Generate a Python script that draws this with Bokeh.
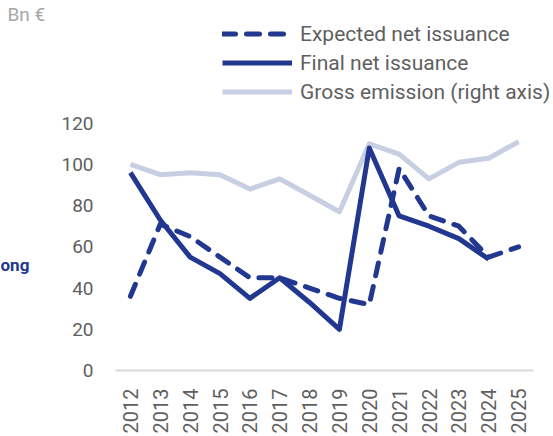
from bokeh.plotting import figure
from bokeh.layouts import row
from bokeh.models import Legend, LegendItem, Label, FixedTicker, Range1d
from bokeh.embed import file_html
from bokeh.resources import INLINE
import math

years = ["2012", "2013", "2014", "2015", "2016", "2017", "2018",
         "2019", "2020", "2021", "2022", "2023", "2024", "2025"]
expected_net = [36, 71, 65, 55, 45, 45, 40, 35, 32, 98, 75, 70, 55, 60]
final_net = [96, 73, 55, 47, 35, 45, 33, 20, 108, 75, 70, 64, 54]
gross_emission = [100, 95, 96, 95, 88, 93, 85, 77, 110, 105, 93, 101, 103, 111]
y_ticks = [0, 20, 40, 60, 80, 100, 120]

DARK = "#22378f"
LIGHT = "#c8cfe2"
GREY = "#5f5f5f"
FONT = "Roboto"

x_vals = [int(y) for y in years]

LEFT_W = 48
TOTAL_W, TOTAL_H = 553, 436
PLOT_BOTTOM = 65
FRAME_H = TOTAL_H - PLOT_BOTTOM
FRAME_LEFT = 115
FRAME_W = TOTAL_W - FRAME_LEFT
STEP_PX = 418 / len(years)
# tick 120 sits 123px below the top; extend the range so the legend lies inside the frame
y_top = 120 * FRAME_H / (FRAME_H - 123)
x_start = x_vals[0] - 0.5
x_end = x_start + FRAME_W / STEP_PX

# narrow strip on the left for the unit and side label (its frame aligns with the main frame)
side = figure(width=LEFT_W, height=TOTAL_H, output_backend="svg", toolbar_location=None,
              x_axis_type=None, y_axis_type=None, min_border=0,
              min_border_bottom=PLOT_BOTTOM,
              x_range=Range1d(0, 1), y_range=Range1d(0, 1))
side.outline_line_color = None
side.grid.visible = False
side.add_layout(Label(x=7, y=FRAME_H - 26, x_units="screen", y_units="screen", text="Bn €",
                      text_font=FONT, text_font_size="19px", text_color="#a6a6a6"))
side.add_layout(Label(x=0, y=FRAME_H - 275, x_units="screen", y_units="screen", text="ong",
                      text_font=FONT, text_font_size="17px", text_font_style="bold",
                      text_color=DARK))

p = figure(x_range=Range1d(x_start, x_end), y_range=Range1d(0, y_top),
           width=TOTAL_W - LEFT_W, height=TOTAL_H,
           output_backend="svg", toolbar_location=None,
           min_border_left=FRAME_LEFT - LEFT_W, min_border_right=0,
           min_border_top=0, min_border_bottom=PLOT_BOTTOM)
p.outline_line_color = None
p.background_fill_color = "white"
p.border_fill_color = "white"
p.grid.visible = False

g = p.line(x_vals, gross_emission, line_color=LIGHT, line_width=5, line_join="round")
e = p.line(x_vals, expected_net, line_color=DARK, line_width=5, line_dash="13 11",
           line_cap="round", line_join="round")
f = p.line(x_vals[:len(final_net)], final_net, line_color=DARK, line_width=5,
           line_join="round")

p.yaxis.ticker = FixedTicker(ticks=y_ticks)
p.yaxis.axis_line_color = None
p.yaxis.major_tick_line_color = None
p.yaxis.minor_tick_line_color = None
p.yaxis.major_label_standoff = 16
p.yaxis.major_label_text_font = FONT
p.yaxis.major_label_text_font_size = "19px"
p.yaxis.major_label_text_color = GREY

p.xaxis.ticker = FixedTicker(ticks=x_vals)
p.xaxis.bounds = (x_vals[0] - 0.5, x_vals[-1] + 0.5)
p.xaxis.axis_line_color = "#d9d9d9"
p.xaxis.axis_line_width = 2
p.xaxis.major_tick_line_color = None
p.xaxis.minor_tick_line_color = None
p.xaxis.major_label_orientation = math.pi / 2
p.xaxis.major_label_standoff = 12
p.xaxis.major_label_text_font = FONT
p.xaxis.major_label_text_font_size = "20px"
p.xaxis.major_label_text_color = GREY

legend = Legend(items=[
    LegendItem(label="Expected net issuance", renderers=[e]),
    LegendItem(label="Final net issuance", renderers=[f]),
    LegendItem(label="Gross emission (right axis)", renderers=[g]),
], location=(107, 264))
legend.background_fill_alpha = 0
legend.border_line_color = None
legend.padding = 0
legend.margin = 0
legend.spacing = 0
legend.glyph_width = 70
legend.glyph_height = 29
legend.label_height = 29
legend.label_standoff = 8
legend.label_text_font = FONT
legend.label_text_font_size = "21px"
legend.label_text_color = GREY
p.add_layout(legend, "center")

layout = row(side, p, spacing=0)
open("out.html", "w").write(file_html(layout, INLINE))
